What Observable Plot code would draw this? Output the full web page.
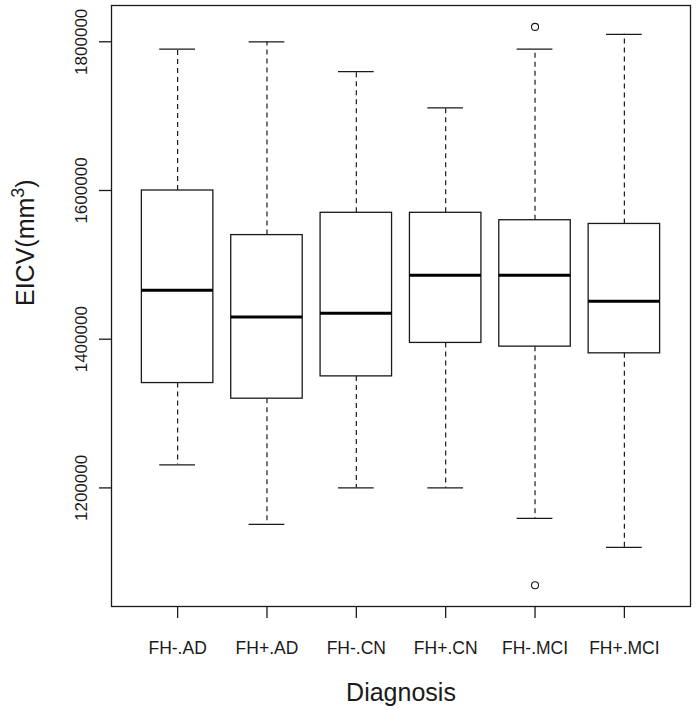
<!DOCTYPE html>
<html>
<head>
<meta charset="utf-8">
<script src="https://cdn.jsdelivr.net/npm/d3@7"></script>
<script src="https://cdn.jsdelivr.net/npm/@observablehq/plot@0.6"></script>
<style>
  html, body { margin: 0; padding: 0; background: #fff; }
  #chart { width: 696px; height: 710px; }
</style>
</head>
<body>
<div id="chart"></div>
<script>
// ---- data ----
const categories = ["FH-.AD", "FH+.AD", "FH-.CN", "FH+.CN", "FH-.MCI", "FH+.MCI"];
const lowerWhisker = [1231000, 1151000, 1200000, 1200000, 1159000, 1120000];
const q1Values     = [1341000, 1320000, 1350000, 1395000, 1390000, 1381000];
const medianValues = [1466000, 1430000, 1435000, 1486000, 1486000, 1451000];
const q3Values     = [1600000, 1540000, 1570000, 1570000, 1560000, 1555000];
const upperWhisker = [1790000, 1800000, 1760000, 1711000, 1790000, 1810000];
const outlierGroups = ["FH-.MCI", "FH-.MCI"];
const outlierValues = [1820000, 1069000];
const yTicks = [1200000, 1400000, 1600000, 1800000];

const boxes = categories.map((c, i) => ({
  cat: c, pos: i + 1,
  lo: lowerWhisker[i], q1: q1Values[i], med: medianValues[i], q3: q3Values[i], hi: upperWhisker[i]
}));
const outliers = outlierGroups.map((c, i) => ({ pos: categories.indexOf(c) + 1, v: outlierValues[i] }));

const ink = "#1a1a1a";
const halfBox = 0.4, halfStaple = 0.2;

const chart = Plot.plot({
  width: 696,
  height: 710,
  marginLeft: 111,
  marginRight: 6,
  marginTop: 5,
  marginBottom: 104,
  style: { fontFamily: "'Liberation Sans', Arial, sans-serif", background: "#fff", color: ink },
  x: { type: "linear", domain: [0.26, 6.74] },
  y: { domain: [1040500, 1848800] },
  marks: [
    Plot.ruleX(boxes, { x: "pos", y1: "q3", y2: "hi", stroke: ink, strokeWidth: 1.2, strokeDasharray: "5,4" }),
    Plot.ruleX(boxes, { x: "pos", y1: "q1", y2: "lo", stroke: ink, strokeWidth: 1.2, strokeDasharray: "5,4" }),
    Plot.ruleY(boxes, { y: "hi", x1: d => d.pos - halfStaple, x2: d => d.pos + halfStaple, stroke: ink, strokeWidth: 1.3 }),
    Plot.ruleY(boxes, { y: "lo", x1: d => d.pos - halfStaple, x2: d => d.pos + halfStaple, stroke: ink, strokeWidth: 1.3 }),
    Plot.rect(boxes, { x1: d => d.pos - halfBox, x2: d => d.pos + halfBox, y1: "q1", y2: "q3", fill: "#fff", stroke: ink, strokeWidth: 1.3 }),
    Plot.ruleY(boxes, { y: "med", x1: d => d.pos - halfBox, x2: d => d.pos + halfBox, stroke: "#000", strokeWidth: 3 }),
    Plot.dot(outliers, { x: "pos", y: "v", r: 3.5, stroke: ink, strokeWidth: 1.1, fill: "none" }),
    Plot.frame({ stroke: ink, strokeWidth: 1.3 }),
    Plot.axisY(yTicks, {
      tickSize: 12, tickRotate: -90, tickPadding: 13, tickFormat: d => String(d),
      fontSize: 17, label: null, stroke: ink, strokeWidth: 1.3
    }),
    Plot.axisX([1, 2, 3, 4, 5, 6], {
      tickSize: 12, tickPadding: 23, tickFormat: i => categories[i - 1],
      fontSize: 17.5, label: null, stroke: ink, strokeWidth: 1.3
    }),
    Plot.text(["Diagnosis"], { frameAnchor: "bottom", dy: 94, lineAnchor: "bottom", fontSize: 25, fill: ink }),
    Plot.text(["EICV(mm³)"], { frameAnchor: "left", dx: -78, rotate: -90, lineAnchor: "bottom", fontSize: 25, fill: ink })
  ]
});

document.getElementById("chart").appendChild(chart);

// render the superscript like R's expression(mm^3)
d3.select(chart).selectAll("text").each(function () {
  if (this.textContent === "EICV(mm³)") {
    const t = d3.select(this);
    t.text(null);
    t.append("tspan").text("EICV(mm");
    t.append("tspan").attr("dy", "-0.55em").attr("font-size", "0.72em").text("3");
    t.append("tspan").attr("dy", "0.4em").text(")");
  }
});
</script>
</body>
</html>
